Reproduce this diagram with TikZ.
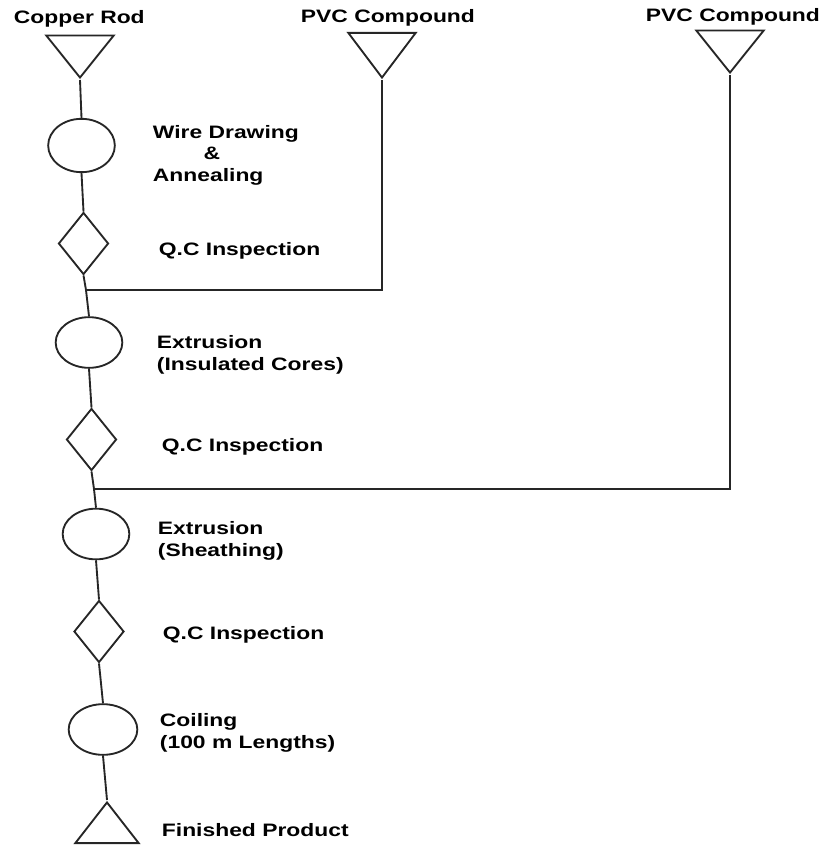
\documentclass[tikz,border=0pt]{standalone}
\usepackage{fontspec}
\newfontfamily\lblfont[FakeStretch=1.27]{Liberation Sans}
\usetikzlibrary{shapes.geometric}

\begin{document}
\begin{tikzpicture}[x=0.75pt,y=-0.75pt,line width=1.4pt,
    op/.style={draw=black!85,ellipse,inner sep=0pt,minimum width=50pt,minimum height=38pt},
    qc/.style={draw=black!85,diamond,inner sep=0pt,minimum width=37.5pt,minimum height=46.5pt},
    store/.style={draw=black!85,isosceles triangle,isosceles triangle stretches,inner sep=0pt,
      minimum height=31.5pt,minimum width=50.5pt,rotate=-90,anchor=apex},
    lbl/.style={font=\lblfont\bfseries\fontsize{13.5}{16.1}\selectfont,inner sep=0pt,
      anchor=base west,align=left}]
  \useasboundingbox (0,0) rectangle (821,845);
  % raw materials
  \node[store] (rod) at (80,80) {};
  \node[store,minimum height=33.5pt] (pvca) at (382,80) {};
  \node[store] (pvcb) at (730,75) {};
  \node[lbl] (trod) at (13,23.5) {Copper Rod};
  \node[lbl] (tpvca) at (300,23) {PVC Compound};
  \node[lbl] (tpvcb) at (645,22) {PVC Compound};
  % main line
  \node[op,minimum height=40pt] (draw) at (81.5,145.5) {};
  \node[qc] (qca) at (83.5,243.5) {};
  \node[op] (insul) at (89,342.5) {};
  \node[qc] (qcb) at (91.5,439.5) {};
  \node[op] (sheath) at (96,534) {};
  \node[qc] (qcc) at (99,631.5) {};
  \node[op,minimum width=51.5pt] (coil) at (103,729.5) {};
  \node[store,rotate=180,minimum height=30.5pt,minimum width=47.5pt] (prod) at (107,800) {};
  \coordinate (ja) at (86,290);
  \coordinate (jb) at (94,489);
  % labels
  \node[lbl] (tdraw) at (152,181) {Wire Drawing\\\hspace*{38pt}\&\\Annealing};
  \node[lbl] (tqca) at (158,255) {Q.C Inspection};
  \node[lbl] (tinsul) at (156,370) {Extrusion\\(Insulated Cores)};
  \node[lbl] (tqcb) at (161,451) {Q.C Inspection};
  \node[lbl] (tsheath) at (157,556) {Extrusion\\(Sheathing)};
  \node[lbl] (tqcc) at (162,639) {Q.C Inspection};
  \node[lbl] (tcoil) at (159,748) {Coiling\\(100 m Lengths)};
  \node[lbl] (tprod) at (161,836) {Finished Product};
  % connectors
  \draw[black!85] (rod.apex) -- (draw.north);
  \draw[black!85] (draw.south) -- (qca.north);
  \draw[black!85] (qca.south) -- (ja) -- (insul.north);
  \draw[black!85] (insul.south) -- (qcb.north);
  \draw[black!85] (qcb.south) -- (jb) -- (sheath.north);
  \draw[black!85] (sheath.south) -- (qcc.north);
  \draw[black!85] (qcc.south) -- (coil.north);
  \draw[black!85] (coil.south) -- (prod.apex);
  \draw[black!85] (pvca.apex) |- (ja);
  \draw[black!85] (pvcb.apex) |- (jb);
\end{tikzpicture}
\end{document}
